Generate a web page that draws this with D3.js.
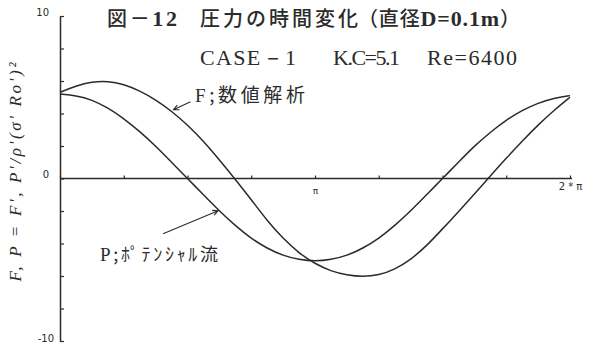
<!DOCTYPE html>
<html>
<head>
<meta charset="utf-8">
<script src="https://cdn.jsdelivr.net/npm/d3@7"></script>
<style>
  html, body { margin: 0; padding: 0; background: #fff; }
  svg { display: block; }
</style>
</head>
<body>
<svg id="chart" width="591" height="346"></svg>
<script>
// Phase of the oscillation, in units of π (0 … 2π)
const phase = [0, 0.0625, 0.125, 0.1875, 0.25, 0.3125, 0.375, 0.4375, 0.5,
  0.5625, 0.625, 0.6875, 0.75, 0.8125, 0.875, 0.9375, 1.0,
  1.0625, 1.125, 1.1875, 1.25, 1.3125, 1.375, 1.4375, 1.5,
  1.5625, 1.625, 1.6875, 1.75, 1.8125, 1.875, 1.9375, 2.0];

// F: numerical analysis
const fValues = [5.3, 5.7, 5.95, 6.0, 5.8, 5.4, 4.85, 4.15, 3.3,
  2.3, 1.15, -0.05, -1.3, -2.6, -3.7, -4.6, -5.25,
  -5.7, -5.95, -6.05, -5.95, -5.6, -5.0, -4.15, -3.1,
  -2.05, -0.95, 0.15, 1.25, 2.3, 3.3, 4.2, 5.0];

// P: potential flow
const pValues = [5.2, 5.1, 4.85, 4.35, 3.7, 2.9, 2.0, 1.0, 0.0,
  -1.0, -2.0, -2.9, -3.7, -4.3, -4.75, -5.0, -5.1,
  -5.0, -4.75, -4.3, -3.7, -2.9, -2.0, -1.0, 0.0,
  1.0, 2.0, 2.85, 3.6, 4.2, 4.65, 4.95, 5.1];

const yTickValues = [-10, -8, -6, -4, -2, 0, 2, 4, 6, 8, 10];
const yTickLabels = { "10": "10", "0": "0", "-10": "-10" };
const xTickValues = [0, 0.25, 0.5, 0.75, 1, 1.25, 1.5, 1.75, 2];
const xTickLabels = { "1": "π", "2": "2 * π" };

const titleLine1 = ["図－", "12", "圧力の時間変化", "（直径", "D=0.1m", "）"];
const titleLine2 = ["CASE－1", "K.C=5.1", "Re=6400"];
const fLabel = ["F", ";数値解析"];
const pLabel = ["P", ";ﾎﾟﾃﾝｼｬﾙ流"];
const yLabel = "F, P = F', P'/ρ'(σ' Ro')²";

const ink = "#2b2b2b";
const cjk = "'Noto Sans CJK JP', sans-serif";
const serif = "'Liberation Serif', 'DejaVu Serif', serif";

const svg = d3.select("#chart");

const x = d3.scaleLinear().domain([0, 2]).range([60, 570]);
const y = d3.scaleLinear().domain([-10, 10]).range([341, 16]);

// Axes
const yAxis = d3.axisLeft(y)
  .tickValues(yTickValues)
  .tickSize(-4)
  .tickSizeOuter(0)
  .tickPadding(11)
  .tickFormat(d => yTickLabels[String(d)] || "");

const gy = svg.append("g")
  .attr("transform", `translate(${x(0)},0)`)
  .call(yAxis);
gy.select(".domain").attr("stroke", ink).attr("stroke-width", 1.5);
gy.selectAll(".tick line").attr("stroke", ink).attr("stroke-width", 1.2);
gy.selectAll(".tick text")
  .attr("fill", ink)
  .style("font-family", "'DejaVu Sans', sans-serif")
  .style("font-size", "10px")
  .attr("dy", d => d === -10 ? "0em" : "-0.1em")
  .attr("x", d => d === -10 ? -6 : -11);

const xAxis = d3.axisBottom(x)
  .tickValues(xTickValues)
  .tickSize(-3)
  .tickSizeOuter(0)
  .tickPadding(9)
  .tickFormat(d => xTickLabels[String(d)] || "");

const gx = svg.append("g")
  .attr("transform", `translate(0,${y(0)})`)
  .call(xAxis);
gx.select(".domain").attr("stroke", ink).attr("stroke-width", 1.5)
  .attr("d", `M${x(0)},0H${x(2) + 2}`);
gx.selectAll(".tick line").attr("stroke", ink).attr("stroke-width", 1.2);
gx.selectAll(".tick text")
  .attr("fill", ink)
  .style("font-family", "'DejaVu Sans', sans-serif")
  .style("font-size", d => d === 2 ? "10px" : "9px")
  .attr("y", d => d === 2 ? 4 : 9);

// Curves
const line = d3.line()
  .x(d => x(d[0]))
  .y(d => y(d[1]))
  .curve(d3.curveBasis);

const fSeries = phase.map((t, i) => [t, fValues[i]]);
const pSeries = phase.map((t, i) => [t, pValues[i]]);

svg.append("path").datum(fSeries)
  .attr("d", line).attr("fill", "none")
  .attr("stroke", ink).attr("stroke-width", 1.5);
svg.append("path").datum(pSeries)
  .attr("d", line).attr("fill", "none")
  .attr("stroke", ink).attr("stroke-width", 1.5);

// Leader arrows from the labels to their curves
const fAt = d3.scaleLinear().domain(phase).range(fValues);
const pAt = d3.scaleLinear().domain(phase).range(pValues);

function arrow(tip, tail) {
  const ang = Math.atan2(tail[1] - tip[1], tail[0] - tip[0]);
  const L = 6, spread = 0.45;
  const a1 = [tip[0] + L * Math.cos(ang + spread), tip[1] + L * Math.sin(ang + spread)];
  const a2 = [tip[0] + L * Math.cos(ang - spread), tip[1] + L * Math.sin(ang - spread)];
  svg.append("path")
    .attr("d", `M${tail[0]},${tail[1]}L${tip[0]},${tip[1]}M${a1[0]},${a1[1]}L${tip[0]},${tip[1]}L${a2[0]},${a2[1]}`)
    .attr("fill", "none").attr("stroke", ink).attr("stroke-width", 1.1);
}

const fTipT = 0.445;
const fTip = [x(fTipT), y(fAt(fTipT)) - 3];
arrow(fTip, [fTip[0] + 17, fTip[1] - 8]);

const pTipT = 0.62;
const pTip = [x(pTipT), y(pAt(pTipT)) + 1];
arrow(pTip, [pTip[0] - 55, pTip[1] + 23]);

// Curve labels
const fl = svg.append("text")
  .attr("x", 195).attr("y", 102)
  .attr("fill", ink)
  .attr("textLength", 110).attr("lengthAdjust", "spacing");
fl.append("tspan").text(fLabel[0]).style("font-family", serif).style("font-size", "19px");
fl.append("tspan").text(fLabel[1]).style("font-family", cjk).style("font-size", "19px");

const pl = svg.append("text")
  .attr("x", 100).attr("y", 261)
  .attr("fill", ink)
  .attr("textLength", 118).attr("lengthAdjust", "spacing");
pl.append("tspan").text(pLabel[0]).style("font-family", serif).style("font-size", "19px");
pl.append("tspan").text(pLabel[1]).style("font-family", cjk).style("font-size", "18px");

// Y-axis title
svg.append("text")
  .attr("transform", "translate(21,172) rotate(-90)")
  .attr("text-anchor", "middle")
  .attr("fill", ink)
  .attr("textLength", 219).attr("lengthAdjust", "spacing")
  .style("font-family", serif)
  .style("font-style", "italic")
  .style("font-size", "17px")
  .text(yLabel);

// Titles
function seg(parts, xpos, len, yb) {
  const t = svg.append("text").attr("x", xpos).attr("y", yb).attr("fill", ink)
    .attr("textLength", len).attr("lengthAdjust", "spacing");
  parts.forEach(p => t.append("tspan").text(p.s)
    .style("font-family", p.f).style("font-size", p.size)
    .style("font-weight", p.w || "normal"));
  return t;
}

seg([{ s: titleLine1[0], f: cjk, size: "20px", w: 500 }, { s: titleLine1[1], f: serif, size: "22px", w: "bold" }], 107, 70, 26);
seg([{ s: titleLine1[2], f: cjk, size: "20px", w: 500 }], 200, 158, 26);
seg([{ s: titleLine1[3], f: cjk, size: "20px", w: 500 }, { s: titleLine1[4], f: serif, size: "22px", w: "bold" },
     { s: titleLine1[5], f: cjk, size: "20px", w: 500 }], 358, 162, 26);

seg([{ s: titleLine2[0], f: serif, size: "22px" }], 200, 96, 65);
seg([{ s: titleLine2[1], f: serif, size: "22px" }], 333, 67, 65);
seg([{ s: titleLine2[2], f: serif, size: "22px" }], 427, 90, 65);
</script>
</body>
</html>
